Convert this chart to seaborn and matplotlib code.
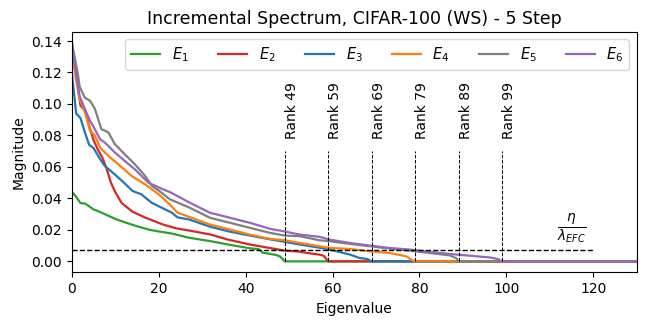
import numpy as np
import pandas as pd
import matplotlib
matplotlib.use("Agg")
import matplotlib.pyplot as plt
import seaborn as sns

# =========================
# DATA
# =========================
ranks = [49, 59, 69, 79, 89, 99]
eta_level = 0.0073

e1_x = [0, 1, 2, 3, 4, 5, 6, 8, 10, 12, 14, 16, 18, 20, 23, 27, 32, 36, 41, 43, 44, 47, 48, 49, 130]
e1_y = [0.0443, 0.041, 0.037, 0.0368, 0.035, 0.033, 0.032, 0.0295, 0.027, 0.025, 0.0232, 0.0215,
        0.020, 0.019, 0.0177, 0.015, 0.0128, 0.0107, 0.0083, 0.0078, 0.0055, 0.0041, 0.003, 0.0, 0.0]

e2_x = [0, 1, 2, 3, 4, 5, 6, 7, 8, 9, 10, 11.5, 14, 17, 21, 24, 27, 32, 36, 41, 46, 49, 52, 55,
        57, 58, 59, 130]
e2_y = [0.140, 0.118, 0.099, 0.096, 0.086, 0.077, 0.071, 0.066, 0.059, 0.050, 0.044, 0.037, 0.0315,
        0.0277, 0.0234, 0.021, 0.0196, 0.017, 0.0138, 0.0107, 0.0083, 0.0068, 0.0063, 0.005,
        0.0043, 0.0035, 0.0, 0.0]

e3_x = [0, 1, 2, 3, 4, 5, 6.5, 7.6, 10, 12, 14, 16, 18.4, 21.5, 23, 24.3, 27, 32, 36, 41, 46, 49,
        52.5, 57, 59.4, 64, 66.3, 68, 69, 130]
e3_y = [0.120, 0.094, 0.091, 0.082, 0.074, 0.072, 0.065, 0.0606, 0.055, 0.050, 0.0447, 0.0426,
        0.0372, 0.033, 0.031, 0.028, 0.0266, 0.0219, 0.0191, 0.0164, 0.0138, 0.0124, 0.0107,
        0.0087, 0.0075, 0.0043, 0.0021, 0.0015, 0.0, 0.0]

e4_x = [0, 1, 1.8, 3, 4.2, 5.3, 6.5, 8.4, 10.7, 13.8, 16.9, 20, 22.6, 24.3, 27.2, 31.8, 36.4, 41,
        45.6, 49, 52.5, 57, 59.4, 64, 68.6, 73.2, 77, 78.2, 79, 130]
e4_y = [0.133, 0.115, 0.103, 0.095, 0.083, 0.080, 0.0723, 0.067, 0.0617, 0.0542, 0.0489, 0.0426,
        0.036, 0.031, 0.0281, 0.0234, 0.0202, 0.017, 0.0143, 0.0134, 0.0117, 0.0096, 0.0085,
        0.0079, 0.0064, 0.0053, 0.0032, 0.001, 0.0, 0.0]

e5_x = [0, 1.4, 1.8, 3, 4.2, 5.3, 6.8, 8.4, 9.9, 12.2, 14.5, 16.9, 18.4, 20, 22.6, 27.2, 31.8,
        36.4, 41, 45.6, 49, 52.5, 57, 59.4, 64, 68.6, 73.2, 77.8, 82.4, 87, 88.5, 89, 130]
e5_y = [0.139, 0.119, 0.111, 0.104, 0.102, 0.097, 0.084, 0.082, 0.0745, 0.068, 0.0617, 0.0542,
        0.048, 0.045, 0.0394, 0.034, 0.0277, 0.0245, 0.0213, 0.0181, 0.0164, 0.016, 0.0134,
        0.0128, 0.0111, 0.0096, 0.0081, 0.0068, 0.0053, 0.0038, 0.002, 0.0, 0.0]

e6_x = [0, 1, 1.8, 3, 4.2, 5.3, 6.5, 7.6, 9.9, 12.2, 14.5, 17.6, 20.8, 22.6, 27.2, 31.8, 36.4,
        41, 45.6, 49, 52.5, 57, 59.4, 64, 68.6, 73.2, 77.8, 82.4, 87, 91.6, 96.2, 98.1, 99, 130]
e6_y = [0.136, 0.118, 0.105, 0.0968, 0.0893, 0.084, 0.0776, 0.0755, 0.0692, 0.0638, 0.0585, 0.050,
        0.046, 0.044, 0.0372, 0.0309, 0.0277, 0.0245, 0.0207, 0.019, 0.017, 0.0156, 0.0138,
        0.0117, 0.010, 0.0085, 0.0075, 0.006, 0.0047, 0.0036, 0.0025, 0.0015, 0.0, 0.0]

series = [
    (r"$E_1$", e1_x, e1_y, "#2ca02c"),
    (r"$E_2$", e2_x, e2_y, "#d62728"),
    (r"$E_3$", e3_x, e3_y, "#1f77b4"),
    (r"$E_4$", e4_x, e4_y, "#ff7f0e"),
    (r"$E_5$", e5_x, e5_y, "#7f7f7f"),
    (r"$E_6$", e6_x, e6_y, "#9467bd"),
]

# =========================
# PLOT
# =========================
fig = plt.figure(figsize=(6.47, 3.27), dpi=100)
ax = fig.add_axes([0.111, 0.167, 0.873, 0.735])

for label, xs, ys, color in series:
    df = pd.DataFrame({"Eigenvalue": xs, "Magnitude": ys})
    sns.lineplot(data=df, x="Eigenvalue", y="Magnitude", color=color, label=label,
                 linewidth=1.6, ax=ax, legend=False)

# threshold line eta / lambda_EFC
ax.hlines(eta_level, 0, 120, colors="black", linestyles="--", linewidth=1.0)
ax.text(115, 0.0215, r"$\frac{\eta}{\lambda_{EFC}}$", ha="center", va="center", fontsize=14)

# rank markers
for r in ranks:
    ax.vlines(r, 0, 0.07, colors="black", linestyles="--", linewidth=0.7)
    ax.text(r, 0.078, f"Rank {r}", rotation=90, ha="left", va="bottom", fontsize=10)

ax.set_xlim(0, 130)
ax.set_ylim(-0.007, 0.1457)
ax.set_xlabel("Eigenvalue")
ax.set_ylabel("Magnitude")
ax.set_title("Incremental Spectrum, CIFAR-100 (WS) - 5 Step", fontsize=12.5)
ax.legend(ncol=6, loc="upper right", fontsize=10.5)

fig.savefig("out.png", dpi=100)
plt.close(fig)
